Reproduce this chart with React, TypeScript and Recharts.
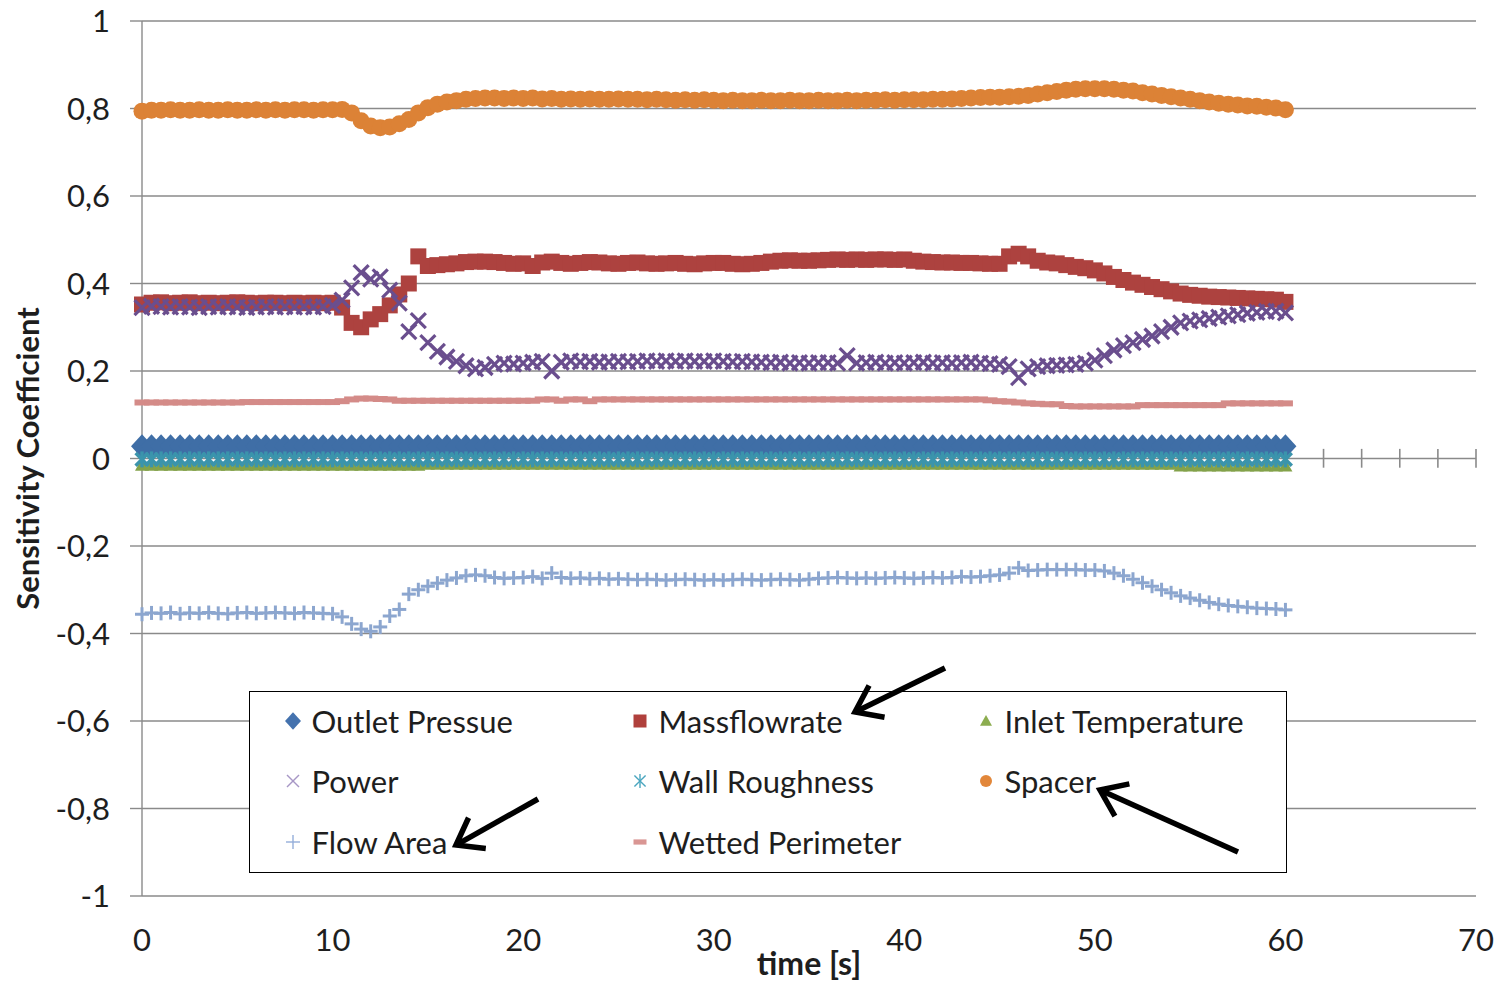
import React from 'react';
import {
  ScatterChart,
  Scatter,
  XAxis,
  YAxis,
  CartesianGrid,
  ReferenceLine,
  Legend,
} from 'recharts';

// Sampling interval of the transient (seconds between points)
const TIME_STEP = 0.5;

// ---- sensitivity coefficients, one value per sample (t = 0 … 60 s) ----

const outletPressure = [
  0.028, 0.028, 0.028, 0.028, 0.028, 0.028, 0.028, 0.028, 0.028, 0.028, 0.028, 0.028, 0.028, 0.028, 0.028, 0.028, 0.028, 0.028, 0.028, 0.028,
  0.028, 0.028, 0.028, 0.028, 0.028, 0.028, 0.028, 0.028, 0.028, 0.028, 0.028, 0.028, 0.028, 0.028, 0.028, 0.028, 0.028, 0.028, 0.028, 0.028,
  0.028, 0.028, 0.028, 0.028, 0.028, 0.028, 0.028, 0.028, 0.028, 0.028, 0.028, 0.028, 0.028, 0.028, 0.028, 0.028, 0.028, 0.028, 0.028, 0.028,
  0.028, 0.028, 0.028, 0.028, 0.028, 0.028, 0.028, 0.028, 0.028, 0.028, 0.028, 0.028, 0.028, 0.028, 0.028, 0.028, 0.028, 0.028, 0.028, 0.028,
  0.028, 0.028, 0.028, 0.028, 0.028, 0.028, 0.028, 0.028, 0.028, 0.028, 0.028, 0.028, 0.028, 0.028, 0.028, 0.028, 0.028, 0.028, 0.028, 0.028,
  0.028, 0.028, 0.028, 0.028, 0.028, 0.028, 0.028, 0.028, 0.028, 0.028, 0.028, 0.028, 0.028, 0.028, 0.028, 0.028, 0.028, 0.028, 0.028, 0.028,
  0.028,
];

const massflowrate = [
  // 0 – 9.5 s
  0.352, 0.356, 0.357, 0.355, 0.356, 0.357, 0.355, 0.356, 0.355, 0.356, 0.357, 0.356, 0.355, 0.356, 0.356, 0.355, 0.356, 0.355, 0.356, 0.355,
  // 10 – 19.5 s
  0.356, 0.345, 0.31, 0.3, 0.318, 0.33, 0.35, 0.375, 0.4, 0.462, 0.44, 0.442, 0.444, 0.446, 0.449, 0.45, 0.45, 0.449, 0.447, 0.445,
  // 20 – 34.5 s
  0.446, 0.44, 0.448, 0.45, 0.447, 0.445, 0.447, 0.449, 0.448, 0.446, 0.445, 0.447, 0.448, 0.446, 0.445,
  0.446, 0.447, 0.445, 0.444, 0.446, 0.447, 0.447, 0.445, 0.444, 0.445, 0.447, 0.45, 0.452, 0.453, 0.452,
  // 35 – 44.5 s
  0.452, 0.453, 0.454, 0.455, 0.454, 0.455, 0.454, 0.455, 0.455, 0.454, 0.455, 0.452, 0.45, 0.449, 0.448, 0.448, 0.447, 0.447, 0.446, 0.445,
  // 45 – 60 s
  0.445, 0.462, 0.468, 0.462, 0.452, 0.448, 0.446, 0.442, 0.438, 0.435, 0.43, 0.423, 0.415, 0.408, 0.402, 0.397,
  0.392, 0.387, 0.382, 0.377, 0.374, 0.372, 0.37, 0.369, 0.368, 0.367, 0.366, 0.365, 0.364, 0.363, 0.358,
];

const inletTemperature = [
  -0.015, -0.015, -0.015, -0.015, -0.015, -0.015, -0.015, -0.015, -0.015, -0.015, -0.015, -0.015, -0.015, -0.015, -0.015, -0.015, -0.015, -0.015, -0.015, -0.015,
  -0.015, -0.015, -0.015, -0.015, -0.015, -0.015, -0.015, -0.015, -0.015, -0.015, -0.013, -0.013, -0.013, -0.013, -0.013, -0.013, -0.013, -0.013, -0.013, -0.013,
  -0.013, -0.013, -0.013, -0.013, -0.013, -0.013, -0.013, -0.013, -0.013, -0.013, -0.013, -0.013, -0.013, -0.013, -0.013, -0.013, -0.013, -0.013, -0.013, -0.013,
  -0.013, -0.013, -0.013, -0.013, -0.013, -0.013, -0.013, -0.013, -0.013, -0.013, -0.013, -0.013, -0.013, -0.013, -0.013, -0.013, -0.013, -0.013, -0.013, -0.013,
  -0.013, -0.013, -0.013, -0.013, -0.013, -0.013, -0.013, -0.013, -0.013, -0.013, -0.013, -0.013, -0.013, -0.013, -0.013, -0.013, -0.013, -0.013, -0.013, -0.013,
  -0.013, -0.013, -0.013, -0.013, -0.013, -0.013, -0.013, -0.013, -0.013, -0.017, -0.017, -0.017, -0.017, -0.017, -0.017, -0.017, -0.017, -0.017, -0.017, -0.017,
  -0.017,
];

const power = [
  // 0 – 9.5 s
  0.345, 0.348, 0.347, 0.346, 0.347, 0.346, 0.345, 0.347, 0.346, 0.347, 0.346, 0.345, 0.346, 0.347, 0.346, 0.347, 0.346, 0.347, 0.346, 0.347,
  // 10 – 19.5 s
  0.35, 0.362, 0.39, 0.425, 0.41, 0.415, 0.385, 0.355, 0.29, 0.315, 0.265, 0.245, 0.232, 0.222, 0.212, 0.205, 0.208, 0.215, 0.218, 0.216,
  // 20 – 34.5 s
  0.218, 0.22, 0.222, 0.2, 0.22, 0.223, 0.221, 0.222, 0.22, 0.221, 0.222, 0.221, 0.222, 0.223, 0.222,
  0.223, 0.222, 0.223, 0.222, 0.222, 0.223, 0.222, 0.221, 0.222, 0.221, 0.22, 0.219, 0.22, 0.218, 0.219,
  // 35 – 44.5 s
  0.218, 0.219, 0.219, 0.218, 0.235, 0.218, 0.219, 0.22, 0.218, 0.219, 0.218, 0.219, 0.22, 0.218, 0.219, 0.218, 0.219, 0.22, 0.218, 0.217,
  // 45 – 60 s
  0.215, 0.21, 0.185, 0.205, 0.21, 0.212, 0.213, 0.214, 0.215, 0.218, 0.225, 0.235, 0.248, 0.258, 0.265, 0.272,
  0.28, 0.29, 0.3, 0.31, 0.314, 0.317, 0.32, 0.323, 0.326, 0.329, 0.332, 0.334, 0.336, 0.337, 0.333,
];

const wallRoughness = [
  -0.002, -0.002, -0.002, -0.002, -0.002, -0.002, -0.002, -0.002, -0.002, -0.002, -0.002, -0.002, -0.002, -0.002, -0.002, -0.002, -0.002, -0.002, -0.002, -0.002,
  -0.002, -0.002, -0.002, -0.002, -0.002, -0.002, -0.002, -0.002, -0.002, -0.002, -0.002, -0.002, -0.002, -0.002, -0.002, -0.002, -0.002, -0.002, -0.002, -0.002,
  -0.002, -0.002, -0.002, -0.002, -0.002, -0.002, -0.002, -0.002, -0.002, -0.002, -0.002, -0.002, -0.002, -0.002, -0.002, -0.002, -0.002, -0.002, -0.002, -0.002,
  -0.002, -0.002, -0.002, -0.002, -0.002, -0.002, -0.002, -0.002, -0.002, -0.002, -0.002, -0.002, -0.002, -0.002, -0.002, -0.002, -0.002, -0.002, -0.002, -0.002,
  -0.002, -0.002, -0.002, -0.002, -0.002, -0.002, -0.002, -0.002, -0.002, -0.002, -0.002, -0.002, -0.002, -0.002, -0.002, -0.002, -0.002, -0.002, -0.002, -0.002,
  -0.002, -0.002, -0.002, -0.002, -0.002, -0.002, -0.002, -0.002, -0.002, -0.002, -0.002, -0.002, -0.002, -0.002, -0.002, -0.002, -0.002, -0.002, -0.002, -0.002,
  -0.002,
];

const spacer = [
  // 0 – 9.5 s
  0.794, 0.796, 0.796, 0.797, 0.796, 0.796, 0.797, 0.796, 0.796, 0.797, 0.796, 0.796, 0.797, 0.796, 0.797, 0.796, 0.797, 0.797, 0.796, 0.797,
  // 10 – 19.5 s
  0.797, 0.798, 0.79, 0.772, 0.76, 0.756, 0.758, 0.765, 0.775, 0.79, 0.802, 0.81, 0.815, 0.818, 0.821, 0.823, 0.824, 0.824, 0.823, 0.824,
  // 20 – 34.5 s
  0.823, 0.824, 0.822, 0.823, 0.821, 0.822, 0.821, 0.822, 0.821, 0.821, 0.822, 0.821, 0.821, 0.82, 0.821,
  0.82, 0.819, 0.82, 0.819, 0.82, 0.819, 0.818, 0.819, 0.818, 0.818, 0.819, 0.818, 0.818, 0.819, 0.818,
  // 35 – 44.5 s
  0.818, 0.819, 0.818, 0.818, 0.819, 0.818, 0.819, 0.819, 0.82, 0.819, 0.82, 0.82, 0.82, 0.821, 0.821, 0.822, 0.823, 0.824, 0.825, 0.826,
  // 45 – 60 s
  0.826, 0.827, 0.828, 0.83, 0.833, 0.836, 0.839, 0.842, 0.844, 0.845, 0.845, 0.845, 0.844, 0.842, 0.84, 0.836,
  0.833, 0.83, 0.827, 0.824, 0.821, 0.818, 0.815, 0.812, 0.81, 0.808, 0.806, 0.805, 0.803, 0.801, 0.797,
];

const flowArea = [
  // 0 – 9.5 s
  -0.356, -0.353, -0.354, -0.352, -0.355, -0.353, -0.354, -0.352, -0.354, -0.355, -0.353, -0.352, -0.354, -0.353, -0.352, -0.353, -0.354, -0.352, -0.353, -0.354,
  // 10 – 19.5 s
  -0.355, -0.362, -0.378, -0.39, -0.395, -0.385, -0.36, -0.345, -0.31, -0.3, -0.292, -0.285, -0.278, -0.273, -0.268, -0.266, -0.268, -0.272, -0.274, -0.273,
  // 20 – 34.5 s
  -0.272, -0.27, -0.274, -0.262, -0.272, -0.274, -0.273, -0.275, -0.274, -0.276, -0.275, -0.276, -0.277, -0.276, -0.277,
  -0.278, -0.277, -0.276, -0.277, -0.278, -0.277, -0.278, -0.277, -0.276, -0.277, -0.278, -0.277, -0.276, -0.277, -0.278,
  // 35 – 44.5 s
  -0.276, -0.274, -0.273, -0.272, -0.273, -0.274, -0.273, -0.274, -0.273, -0.272, -0.273, -0.274, -0.273, -0.272, -0.273, -0.272, -0.27, -0.271, -0.27, -0.268,
  // 45 – 60 s
  -0.266, -0.262, -0.25, -0.256, -0.255, -0.254, -0.254, -0.254, -0.254, -0.255, -0.255, -0.257, -0.262, -0.268, -0.276, -0.284,
  -0.292, -0.3, -0.307, -0.314, -0.319, -0.324, -0.329, -0.333, -0.336, -0.338, -0.34, -0.342, -0.343, -0.344, -0.346,
];

const wettedPerimeter = [
  // 0 – 9.5 s
  0.128, 0.128, 0.128, 0.128, 0.128, 0.128, 0.128, 0.128, 0.128, 0.128, 0.128, 0.129, 0.129, 0.129, 0.129, 0.129, 0.129, 0.129, 0.129, 0.129,
  // 10 – 19.5 s
  0.129, 0.131, 0.135, 0.137, 0.137, 0.136, 0.135, 0.132, 0.132, 0.132, 0.132, 0.132, 0.132, 0.132, 0.132, 0.132, 0.132, 0.132, 0.132, 0.132,
  // 20 – 34.5 s
  0.132, 0.132, 0.135, 0.135, 0.132, 0.135, 0.135, 0.131, 0.135, 0.135, 0.135, 0.135, 0.135, 0.135, 0.135,
  0.135, 0.135, 0.135, 0.135, 0.135, 0.135, 0.135, 0.135, 0.135, 0.135, 0.135, 0.135, 0.135, 0.135, 0.135,
  // 35 – 44.5 s
  0.135, 0.135, 0.135, 0.135, 0.135, 0.135, 0.135, 0.135, 0.135, 0.135, 0.135, 0.135, 0.135, 0.135, 0.135, 0.135, 0.135, 0.135, 0.135, 0.133,
  // 45 – 60 s
  0.131, 0.13, 0.128, 0.126, 0.125, 0.124, 0.124, 0.12, 0.119, 0.119, 0.119, 0.119, 0.119, 0.119, 0.119, 0.122,
  0.122, 0.122, 0.122, 0.122, 0.122, 0.122, 0.122, 0.122, 0.126, 0.126, 0.126, 0.126, 0.126, 0.126, 0.126,
];

// ---- axes ----
const xTicks = [0, 10, 20, 30, 40, 50, 60, 70];
const xMinorTicks = [0, 2, 4, 6, 8, 10, 12, 14, 16, 18, 20, 22, 24, 26, 28, 30, 32, 34, 36, 38, 40, 42, 44, 46, 48, 50, 52, 54, 56, 58, 60, 62, 64, 66, 68, 70];
const yTicks = [-1, -0.8, -0.6, -0.4, -0.2, 0, 0.2, 0.4, 0.6, 0.8, 1];

type MarkerKind = 'diamond' | 'square' | 'triangle' | 'cross' | 'asterisk' | 'circle' | 'plus' | 'dash';

interface SeriesDef {
  key: string;
  name: string;
  color: string;
  legendColor: string;
  marker: MarkerKind;
  values: number[];
}

const SERIES: SeriesDef[] = [
  { key: 'outletPressure', name: 'Outlet Pressue', color: '#3F6EA6', legendColor: '#4472AE', marker: 'diamond', values: outletPressure },
  { key: 'massflowrate', name: 'Massflowrate', color: '#AD423F', legendColor: '#B0403C', marker: 'square', values: massflowrate },
  { key: 'inletTemperature', name: 'Inlet Temperature', color: '#83A24A', legendColor: '#8CAD50', marker: 'triangle', values: inletTemperature },
  { key: 'power', name: 'Power', color: '#6A4E8E', legendColor: '#A797C6', marker: 'cross', values: power },
  { key: 'wallRoughness', name: 'Wall Roughness', color: '#3B94AC', legendColor: '#4AA6BF', marker: 'asterisk', values: wallRoughness },
  { key: 'spacer', name: 'Spacer', color: '#DC8236', legendColor: '#E2873A', marker: 'circle', values: spacer },
  { key: 'flowArea', name: 'Flow Area', color: '#8CA6CF', legendColor: '#94AEDA', marker: 'plus', values: flowArea },
  { key: 'wettedPerimeter', name: 'Wetted Perimeter', color: '#D48B88', legendColor: '#D99693', marker: 'dash', values: wettedPerimeter },
];

const LEGEND_LAYOUT: string[][] = [
  ['outletPressure', 'massflowrate', 'inletTemperature'],
  ['power', 'wallRoughness', 'spacer'],
  ['flowArea', 'wettedPerimeter'],
];

const FONT = 'Lato, "Open Sans", Arial, sans-serif';
const TEXT_COLOR = '#1e1e1e';
const GRID_COLOR = '#8a8a8a';

const toPoints = (values: number[]) => values.map((y, i) => ({ x: i * TIME_STEP, y }));

// Draws one marker centred on (cx, cy); `s` scales the symbol, `w` is the stroke width for line symbols.
function renderMarker(kind: MarkerKind, cx: number, cy: number, color: string, s: number, w: number) {
  switch (kind) {
    case 'diamond':
      return (
        <polygon
          points={`${cx},${cy - s * 1.1} ${cx + s},${cy} ${cx},${cy + s * 1.1} ${cx - s},${cy}`}
          fill={color}
        />
      );
    case 'square':
      return <rect x={cx - s} y={cy - s} width={s * 2} height={s * 2} fill={color} />;
    case 'triangle':
      return <polygon points={`${cx},${cy - s} ${cx + s},${cy + s * 0.8} ${cx - s},${cy + s * 0.8}`} fill={color} />;
    case 'cross':
      return (
        <g stroke={color} strokeWidth={w} strokeLinecap="butt">
          <line x1={cx - s} y1={cy - s} x2={cx + s} y2={cy + s} />
          <line x1={cx - s} y1={cy + s} x2={cx + s} y2={cy - s} />
        </g>
      );
    case 'asterisk':
      return (
        <g stroke={color} strokeWidth={w}>
          <line x1={cx - s * 0.8} y1={cy - s * 0.8} x2={cx + s * 0.8} y2={cy + s * 0.8} />
          <line x1={cx - s * 0.8} y1={cy + s * 0.8} x2={cx + s * 0.8} y2={cy - s * 0.8} />
          <line x1={cx} y1={cy - s} x2={cx} y2={cy + s} />
        </g>
      );
    case 'circle':
      return <circle cx={cx} cy={cy} r={s} fill={color} />;
    case 'plus':
      return (
        <g stroke={color} strokeWidth={w}>
          <line x1={cx - s} y1={cy} x2={cx + s} y2={cy} />
          <line x1={cx} y1={cy - s} x2={cx} y2={cy + s} />
        </g>
      );
    case 'dash':
    default:
      return <rect x={cx - s} y={cy - s * 0.4} width={s * 2} height={s * 0.8} fill={color} />;
  }
}

const PLOT_MARKER_SIZE: Record<MarkerKind, [number, number]> = {
  diamond: [11, 0],
  square: [8, 0],
  triangle: [7, 0],
  cross: [7.5, 3.2],
  asterisk: [8, 3.4],
  circle: [8.5, 0],
  plus: [7, 3],
  dash: [7.5, 0],
};

const LEGEND_MARKER_SIZE: Record<MarkerKind, [number, number]> = {
  diamond: [8, 0],
  square: [6.5, 0],
  triangle: [6, 0],
  cross: [6, 1.4],
  asterisk: [7, 1.4],
  circle: [6, 0],
  plus: [7, 1.4],
  dash: [6.5, 0],
};

const formatY = (v: number) => {
  const r = Math.round(v * 10) / 10;
  return Number.isInteger(r) ? String(r) : r.toFixed(1).replace('.', ',');
};

// Pointer arrows drawn over the legend (coordinates inside the legend box)
const ARROWS = [
  { from: [696, -23], to: [606, 21] },
  { from: [289, 108], to: [207, 154] },
  { from: [989, 161], to: [851, 99] },
];

function Arrow({ from, to }: { from: number[]; to: number[] }) {
  const [x1, y1] = from;
  const [x2, y2] = to;
  const ang = Math.atan2(y1 - y2, x1 - x2);
  const len = 30;
  const spread = (36 * Math.PI) / 180;
  const a = [x2 + len * Math.cos(ang - spread), y2 + len * Math.sin(ang - spread)];
  const b = [x2 + len * Math.cos(ang + spread), y2 + len * Math.sin(ang + spread)];
  return (
    <g stroke="#000" strokeWidth={5.5} fill="none">
      <line x1={x1} y1={y1} x2={x2 + 3 * Math.cos(ang)} y2={y2 + 3 * Math.sin(ang)} />
      <polyline points={`${a[0]},${a[1]} ${x2},${y2} ${b[0]},${b[1]}`} strokeLinejoin="miter" strokeMiterlimit={10} />
    </g>
  );
}

function ChartLegend() {
  const colLeft = [35, 382, 728];
  const rowCenter = [30, 90, 151];
  return (
    <div
      style={{
        position: 'relative',
        width: 1038,
        height: 182,
        boxSizing: 'border-box',
        border: '1.5px solid #000',
        background: '#fff',
        fontFamily: FONT,
      }}
    >
      {LEGEND_LAYOUT.map((row, ri) =>
        row.map((key, ci) => {
          const def = SERIES.find((s) => s.key === key)!;
          const [s, w] = LEGEND_MARKER_SIZE[def.marker];
          return (
            <div
              key={key}
              style={{
                position: 'absolute',
                left: colLeft[ci] - 1.5,
                top: rowCenter[ri] - 20 - 1.5,
                height: 40,
                display: 'flex',
                alignItems: 'center',
                whiteSpace: 'nowrap',
              }}
            >
              <svg width={18} height={24} style={{ marginRight: 10, overflow: 'visible' }}>
                {renderMarker(def.marker, 9, 12, def.legendColor, s, w)}
              </svg>
              <span style={{ fontSize: 31, color: TEXT_COLOR, lineHeight: '40px' }}>{def.name}</span>
            </div>
          );
        })
      )}
      <svg
        width={1038}
        height={182}
        style={{ position: 'absolute', left: -1.5, top: -1.5, overflow: 'visible', pointerEvents: 'none' }}
      >
        {ARROWS.map((a, i) => (
          <Arrow key={i} from={a.from} to={a.to} />
        ))}
      </svg>
    </div>
  );
}

export default function App() {
  return (
    <div style={{ position: 'absolute', left: 0, top: 0, width: 1502, height: 985, background: '#fff' }}>
      <ScatterChart width={1502} height={985} margin={{ top: 21, right: 26, bottom: 0, left: 0 }}>
        <CartesianGrid horizontal vertical={false} stroke={GRID_COLOR} strokeWidth={1.4} />
        <XAxis
          type="number"
          dataKey="x"
          domain={[0, 70]}
          ticks={xTicks}
          interval={0}
          height={89}
          axisLine={false}
          tickLine={false}
          tickSize={6}
          tickMargin={27}
          tick={{ fontSize: 31, fill: TEXT_COLOR, fontFamily: FONT }}
          label={{
            value: 'time [s]',
            position: 'insideBottom',
            offset: 10,
            style: { fontSize: 32, fontWeight: 700, fill: TEXT_COLOR, fontFamily: FONT },
          }}
        />
        <YAxis
          type="number"
          dataKey="y"
          domain={[-1, 1]}
          ticks={yTicks}
          interval={0}
          width={142}
          axisLine={{ stroke: GRID_COLOR, strokeWidth: 1.4 }}
          tickLine={{ stroke: GRID_COLOR, strokeWidth: 1.4 }}
          tickSize={12}
          tickMargin={20}
          tickFormatter={formatY}
          tick={{ fontSize: 31, fill: TEXT_COLOR, fontFamily: FONT }}
          label={{
            value: 'Sensitivity  Coefficient',
            content: (props: any) => {
              const vb = props.viewBox || {};
              const x = (vb.x ?? 0) + 39;
              const y = (vb.y ?? 0) + (vb.height ?? 0) / 2;
              return (
                <text
                  x={x}
                  y={y}
                  transform={`rotate(-90, ${x}, ${y})`}
                  textAnchor="middle"
                  style={{ fontSize: 31, fontWeight: 700, fill: TEXT_COLOR, fontFamily: FONT }}
                >
                  Sensitivity  Coefficient
                </text>
              );
            },
          }}
        />
        {xMinorTicks.map((t) => (
          <ReferenceLine
            key={`tick-${t}`}
            segment={[
              { x: t, y: 0.022 },
              { x: t, y: -0.021 },
            ]}
            stroke={GRID_COLOR}
            strokeWidth={1.6}
          />
        ))}
        {SERIES.map((def) => {
          const [s, w] = PLOT_MARKER_SIZE[def.marker];
          return (
            <Scatter
              key={def.key}
              name={def.name}
              data={toPoints(def.values)}
              fill={def.color}
              isAnimationActive={false}
              shape={(p: any) => renderMarker(def.marker, p.cx, p.cy, def.color, s, w)}
            />
          );
        })}
        <Legend
          layout="horizontal"
          verticalAlign="middle"
          align="center"
          wrapperStyle={{ left: 249, top: 691, width: 1038, height: 182 }}
          content={() => <ChartLegend />}
        />
      </ScatterChart>
    </div>
  );
}
